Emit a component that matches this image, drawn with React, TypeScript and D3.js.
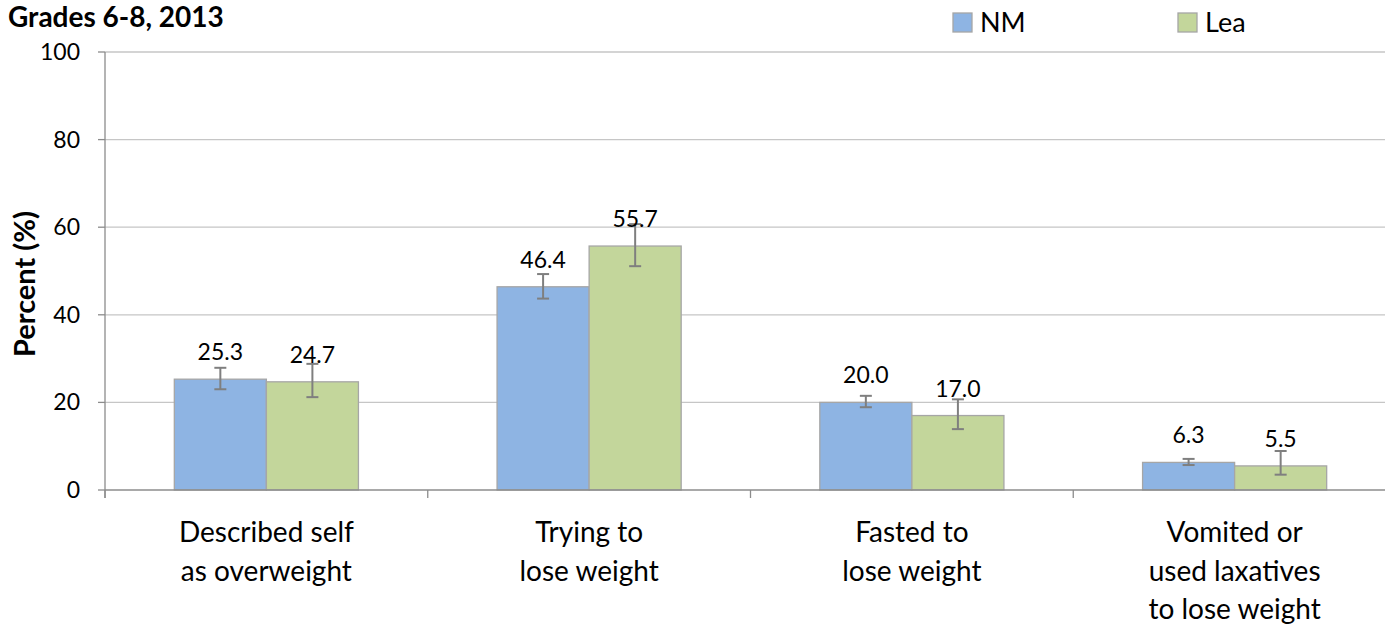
import React, { useRef, useEffect } from 'react'
import * as d3 from 'd3'

const categories = [
  ['Described self', 'as overweight'],
  ['Trying to', 'lose weight'],
  ['Fasted to', 'lose weight'],
  ['Vomited or', 'used laxatives', 'to lose weight'],
]
const seriesNames = ['NM', 'Lea']
const nmValues = [25.3, 46.4, 20.0, 6.3]
const leaValues = [24.7, 55.7, 17.0, 5.5]
const nmLow = [23.0, 43.7, 18.9, 5.7]
const nmHigh = [27.9, 49.3, 21.5, 7.1]
const leaLow = [21.2, 51.1, 13.9, 3.5]
const leaHigh = [28.8, 60.7, 20.7, 8.9]
const yTicks = [0, 20, 40, 60, 80, 100]

const colors = ['#8EB4E3', '#C3D69B']
const FONT = 'Lato, "Open Sans", sans-serif'

export default function App() {
  const svgRef = useRef<SVGSVGElement>(null)

  useEffect(() => {
    if (!svgRef.current) return
    document.body.style.margin = '0'
    const svg = d3.select(svgRef.current)
    svg.selectAll('*').remove()

    const left = 105
    const right = 1396
    const top = 52
    const bottom = 490

    const x = d3.scaleBand<number>()
      .domain(categories.map((_, i) => i))
      .range([left, right])
      .paddingInner(0)
      .paddingOuter(0)
    const inner = d3.scaleBand<number>()
      .domain([0, 1])
      .range([0, x.bandwidth()])
      .paddingOuter(0.753)
      .paddingInner(0)
    const y = d3.scaleLinear().domain([0, 100]).range([bottom, top])

    const data = categories.map((c, i) => [
      { s: 0, v: nmValues[i], lo: nmLow[i], hi: nmHigh[i] },
      { s: 1, v: leaValues[i], lo: leaLow[i], hi: leaHigh[i] },
    ])

    // Grid
    svg.append('g')
      .selectAll('line')
      .data(yTicks.filter(t => t > 0))
      .join('line')
      .attr('x1', left).attr('x2', right)
      .attr('y1', d => y(d)).attr('y2', d => y(d))
      .attr('stroke', '#C6C6C6').attr('stroke-width', 1.3)

    // Y axis
    const yAxis = svg.append('g')
    yAxis.append('line')
      .attr('x1', left).attr('x2', left).attr('y1', top).attr('y2', bottom + 8)
      .attr('stroke', '#8C8C8C').attr('stroke-width', 1.3)
    yAxis.selectAll('.tk')
      .data(yTicks)
      .join('line')
      .attr('x1', left - 7).attr('x2', left)
      .attr('y1', d => y(d)).attr('y2', d => y(d))
      .attr('stroke', '#8C8C8C').attr('stroke-width', 1.3)
    yAxis.selectAll('text')
      .data(yTicks)
      .join('text')
      .attr('x', left - 25).attr('y', d => y(d) + 8)
      .attr('text-anchor', 'end')
      .attr('font-family', FONT).attr('font-size', 23)
      .attr('fill', '#000')
      .text(d => d)

    svg.append('text')
      .attr('transform', `translate(35,284) rotate(-90)`)
      .attr('text-anchor', 'middle')
      .attr('font-family', FONT).attr('font-size', 29).attr('font-weight', 'bold')
      .text('Percent (%)')

    // Bars
    const groups = svg.append('g').selectAll('g')
      .data(data)
      .join('g')
      .attr('transform', (_, i) => `translate(${x(i)},0)`)

    groups.selectAll('rect')
      .data(d => d)
      .join('rect')
      .attr('x', d => inner(d.s)!)
      .attr('width', inner.bandwidth())
      .attr('y', d => y(d.v))
      .attr('height', d => y(0) - y(d.v))
      .attr('fill', d => colors[d.s])
      .attr('stroke', '#A6A6A6').attr('stroke-width', 1.3)

    // Error bars
    const err = groups.selectAll('.err')
      .data(d => d)
      .join('g')
      .attr('class', 'err')
      .attr('stroke', '#7F7F7F').attr('stroke-width', 2)
    err.append('line')
      .attr('x1', d => inner(d.s)! + inner.bandwidth() / 2)
      .attr('x2', d => inner(d.s)! + inner.bandwidth() / 2)
      .attr('y1', d => y(d.lo)).attr('y2', d => y(d.hi))
    err.append('line')
      .attr('x1', d => inner(d.s)! + inner.bandwidth() / 2 - 6)
      .attr('x2', d => inner(d.s)! + inner.bandwidth() / 2 + 6)
      .attr('y1', d => y(d.lo)).attr('y2', d => y(d.lo))
    err.append('line')
      .attr('x1', d => inner(d.s)! + inner.bandwidth() / 2 - 6)
      .attr('x2', d => inner(d.s)! + inner.bandwidth() / 2 + 6)
      .attr('y1', d => y(d.hi)).attr('y2', d => y(d.hi))

    // Value labels
    groups.selectAll('.lbl')
      .data(d => d)
      .join('text')
      .attr('class', 'lbl')
      .attr('x', d => inner(d.s)! + inner.bandwidth() / 2)
      .attr('y', d => y(d.v) - 19)
      .attr('text-anchor', 'middle')
      .attr('font-family', FONT).attr('font-size', 23)
      .text(d => d.v.toFixed(1))

    // X axis
    const xAxis = svg.append('g')
    xAxis.append('line')
      .attr('x1', left).attr('x2', right).attr('y1', bottom).attr('y2', bottom)
      .attr('stroke', '#8C8C8C').attr('stroke-width', 1.3)
    xAxis.selectAll('.tk')
      .data(categories.map((_, i) => i).concat([categories.length]))
      .join('line')
      .attr('x1', d => left + d * x.bandwidth()).attr('x2', d => left + d * x.bandwidth())
      .attr('y1', bottom).attr('y2', bottom + 8)
      .attr('stroke', '#8C8C8C').attr('stroke-width', 1.3)

    xAxis.selectAll('.cat')
      .data(categories)
      .join('text')
      .attr('class', 'cat')
      .attr('text-anchor', 'middle')
      .attr('font-family', FONT).attr('font-size', 28)
      .each(function (lines, i) {
        d3.select(this).selectAll('tspan')
          .data(lines)
          .join('tspan')
          .attr('x', x(i)! + x.bandwidth() / 2)
          .attr('y', (_, j) => 542 + j * 38.5)
          .text(l => l)
      })

    // Title
    svg.append('text')
      .attr('x', 8).attr('y', 27)
      .attr('font-family', FONT).attr('font-size', 28).attr('font-weight', 'bold')
      .text('Grades 6-8, 2013')

    // Legend
    const legend = svg.append('g')
      .selectAll('g')
      .data(seriesNames)
      .join('g')
      .attr('transform', (_, i) => `translate(${953 + i * 225},13)`)
    legend.append('rect')
      .attr('width', 19).attr('height', 19)
      .attr('fill', (_, i) => colors[i])
      .attr('stroke', '#A6A6A6').attr('stroke-width', 1.3)
    legend.append('text')
      .attr('x', 27).attr('y', 19)
      .attr('font-family', FONT).attr('font-size', 27)
      .text(d => d)
  }, [])

  return <svg ref={svgRef} width={1385} height={627} style={{ display: 'block' }} />
}
